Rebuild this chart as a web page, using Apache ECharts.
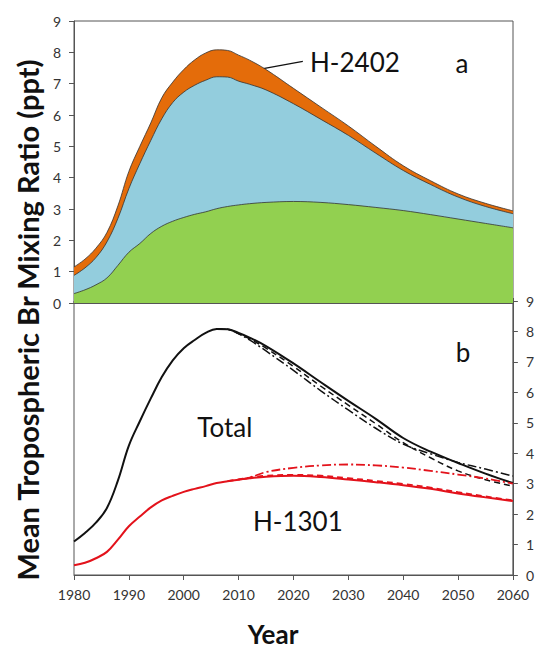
<!DOCTYPE html>
<html>
<head>
<meta charset="utf-8">
<script src="https://cdn.jsdelivr.net/npm/echarts@6/dist/echarts.min.js"></script>
<style>
  html, body { margin: 0; padding: 0; background: #fff; }
  #chart { width: 537px; height: 650px; }
</style>
</head>
<body>
<div id="chart"></div>
<script>
// years shared by all series
const years = [1980, 1982, 1984, 1986, 1988, 1990, 1992, 1994, 1996, 1998, 2000, 2002, 2004, 2006,
  2008, 2010, 2012, 2015, 2020, 2025, 2030, 2035, 2040, 2045, 2050, 2055, 2060]
const xTicks = [1980, 1990, 2000, 2010, 2020, 2030, 2040, 2050, 2060]
const yTicks = [0, 1, 2, 3, 4, 5, 6, 7, 8, 9]

// panel a: upper edge of each coloured band (ppt)
const h1301Top = [0.30, 0.42, 0.58, 0.80, 1.20, 1.62, 1.90, 2.22, 2.45, 2.61, 2.73, 2.83, 2.91, 3.01,
  3.08, 3.13, 3.17, 3.21, 3.24, 3.21, 3.14, 3.05, 2.95, 2.82, 2.68, 2.54, 2.40]
const h1211Top = [0.88, 1.12, 1.45, 1.95, 2.70, 3.65, 4.45, 5.19, 5.88, 6.40, 6.73, 6.95, 7.11, 7.22,
  7.21, 7.08, 6.98, 6.80, 6.36, 5.86, 5.35, 4.78, 4.23, 3.78, 3.38, 3.08, 2.85]
const h2402Top = [1.15, 1.40, 1.75, 2.25, 3.10, 4.20, 5.00, 5.75, 6.55, 7.05, 7.45, 7.76, 7.98, 8.08,
  8.06, 7.91, 7.75, 7.45, 6.85, 6.25, 5.65, 5.00, 4.38, 3.90, 3.48, 3.18, 2.94]

// panel b: total bromine and H-1301, three scenarios
const totalBase = [1.10, 1.38, 1.72, 2.20, 3.10, 4.25, 5.05, 5.80, 6.50, 7.05, 7.45, 7.72, 7.95, 8.08,
  8.07, 7.95, 7.80, 7.52, 6.95, 6.33, 5.72, 5.13, 4.50, 4.05, 3.68, 3.33, 3.02]
const totalDash = [null, null, null, null, null, null, null, null, null, null, null, null, null, 8.08,
  8.07, 7.93, 7.76, 7.45, 6.85, 6.20, 5.58, 4.97, 4.35, 3.85, 3.42, 3.13, 2.92]
const totalDashDot = [null, null, null, null, null, null, null, null, null, null, null, null, null, 8.08,
  8.07, 7.92, 7.72, 7.36, 6.72, 6.05, 5.42, 4.82, 4.30, 3.98, 3.70, 3.48, 3.25]
const h1301Base = [0.32, 0.40, 0.55, 0.76, 1.16, 1.60, 1.92, 2.22, 2.45, 2.60, 2.73, 2.83, 2.92, 3.02,
  3.08, 3.13, 3.18, 3.23, 3.26, 3.22, 3.14, 3.05, 2.95, 2.83, 2.68, 2.55, 2.43]
const h1301Dash = [null, null, null, null, null, null, null, null, null, null, null, null, null, null,
  3.08, 3.14, 3.20, 3.26, 3.29, 3.26, 3.18, 3.09, 2.99, 2.87, 2.72, 2.58, 2.45]
const h1301DashDot = [null, null, null, null, null, null, null, null, null, null, null, null, null, null,
  null, 3.13, 3.20, 3.38, 3.52, 3.60, 3.63, 3.60, 3.53, 3.42, 3.30, 3.17, 3.00]

const pairs = (vals) => years.map((y, i) => [y, vals[i]]).filter(p => p[1] !== null)

const FONT = 'Lato, "Open Sans", sans-serif'
const AXIS = '#555'
const RED = '#e3121b'

const chart = echarts.init(document.getElementById('chart'), null, {renderer: 'svg'})

function band(name, vals, color) {
  return {
    name, type: 'line', xAxisIndex: 0, yAxisIndex: 0, data: pairs(vals),
    symbol: 'none', smooth: 0.4, silent: true,
    lineStyle: {color: '#333', width: 0.8},
    areaStyle: {color, opacity: 1}
  }
}

function curve(name, vals, color, width, type) {
  return {
    name, type: 'line', xAxisIndex: 1, yAxisIndex: 1, data: pairs(vals),
    symbol: 'none', smooth: 0.4, silent: true,
    lineStyle: {color, width, type}
  }
}

const xCommon = {
  type: 'value', min: xTicks[0], max: xTicks[xTicks.length - 1], interval: 10,
  splitLine: {show: false},
  axisLine: {lineStyle: {color: AXIS, width: 1}}
}
const yCommon = {
  type: 'value', min: yTicks[0], max: yTicks[yTicks.length - 1], interval: 1,
  splitLine: {show: false},
  axisLine: {show: true, lineStyle: {color: AXIS, width: 1}},
  axisTick: {show: true, length: 5, lineStyle: {color: AXIS}},
  axisLabel: {color: '#333', fontSize: 14, fontFamily: FONT, margin: 13}
}

chart.setOption({
  animation: false,
  grid: [
    {left: 74, top: 21, width: 439, height: 282, show: true, borderColor: AXIS, borderWidth: 1},
    {left: 74, top: 301, width: 439, height: 274, show: true, borderColor: AXIS, borderWidth: 1}
  ],
  xAxis: [
    Object.assign({}, xCommon, {
      gridIndex: 0, axisLabel: {show: false},
      axisTick: {show: true, inside: true, length: 5, lineStyle: {color: AXIS}}
    }),
    Object.assign({}, xCommon, {
      gridIndex: 1,
      axisTick: {show: true, length: 5, lineStyle: {color: AXIS}},
      axisLabel: {color: '#333', fontSize: 14, fontFamily: FONT, margin: 12, formatter: v => String(v)}
    })
  ],
  yAxis: [
    Object.assign({}, yCommon, {gridIndex: 0, position: 'left'}),
    Object.assign({}, yCommon, {gridIndex: 1, position: 'right'})
  ],
  series: [
    band('H-2402', h2402Top, '#e46c0a'),
    band('H-1211', h1211Top, '#93cddd'),
    band('H-1301', h1301Top, '#92d050'),
    curve('Total dash-dot', totalDashDot, '#111', 1.5, [9, 3, 2, 3]),
    curve('Total dashed', totalDash, '#111', 1.5, [6, 4]),
    curve('Total', totalBase, '#111', 2, 'solid'),
    curve('H-1301 dash-dot', h1301DashDot, RED, 1.8, [9, 3, 2, 3]),
    curve('H-1301 dashed', h1301Dash, RED, 1.8, [6, 4]),
    curve('H-1301 b', h1301Base, RED, 2, 'solid')
  ]
})

// annotations placed in data coordinates
function label(grid, pos, text, size, align) {
  const p = chart.convertToPixel({gridIndex: grid}, pos)
  return {
    type: 'text', x: p[0], y: p[1], silent: true,
    style: {text, fontSize: size, fontFamily: FONT, fill: '#111', align: align || 'center', verticalAlign: 'middle'}
  }
}
const lineA = chart.convertToPixel({gridIndex: 0}, [2013.0, 7.43])
const lineB = chart.convertToPixel({gridIndex: 0}, [2021.7, 7.71])

chart.setOption({
  graphic: [
    label(0, [2023.0, 7.68], 'H-2402', 26, 'left'),
    label(0, [2050.7, 7.65], 'a', 26),
    label(0, [2008.6, 4.62], 'H-1211', 26),
    label(0, [2021.2, 1.55], 'H-1301', 26),
    label(1, [2050.9, 7.32], 'b', 26),
    label(1, [2007.5, 4.86], 'Total', 26),
    label(1, [2020.8, 1.78], 'H-1301', 26),
    {
      type: 'line', silent: true,
      shape: {x1: lineA[0], y1: lineA[1], x2: lineB[0], y2: lineB[1]},
      style: {stroke: '#111', lineWidth: 1.2}
    },
    {
      type: 'text', x: 273, y: 634, silent: true,
      style: {
        text: 'Year', fontSize: 26, fontWeight: 'bold', fontFamily: FONT, fill: '#111',
        align: 'center', verticalAlign: 'middle'
      }
    },
    {
      type: 'text', x: 27, y: 320, rotation: Math.PI / 2, silent: true,
      style: {
        text: 'Mean Tropospheric Br Mixing Ratio (ppt)', fontSize: 29, fontWeight: 'bold',
        fontFamily: FONT, fill: '#111', align: 'center', verticalAlign: 'middle'
      }
    }
  ]
})
</script>
</body>
</html>
